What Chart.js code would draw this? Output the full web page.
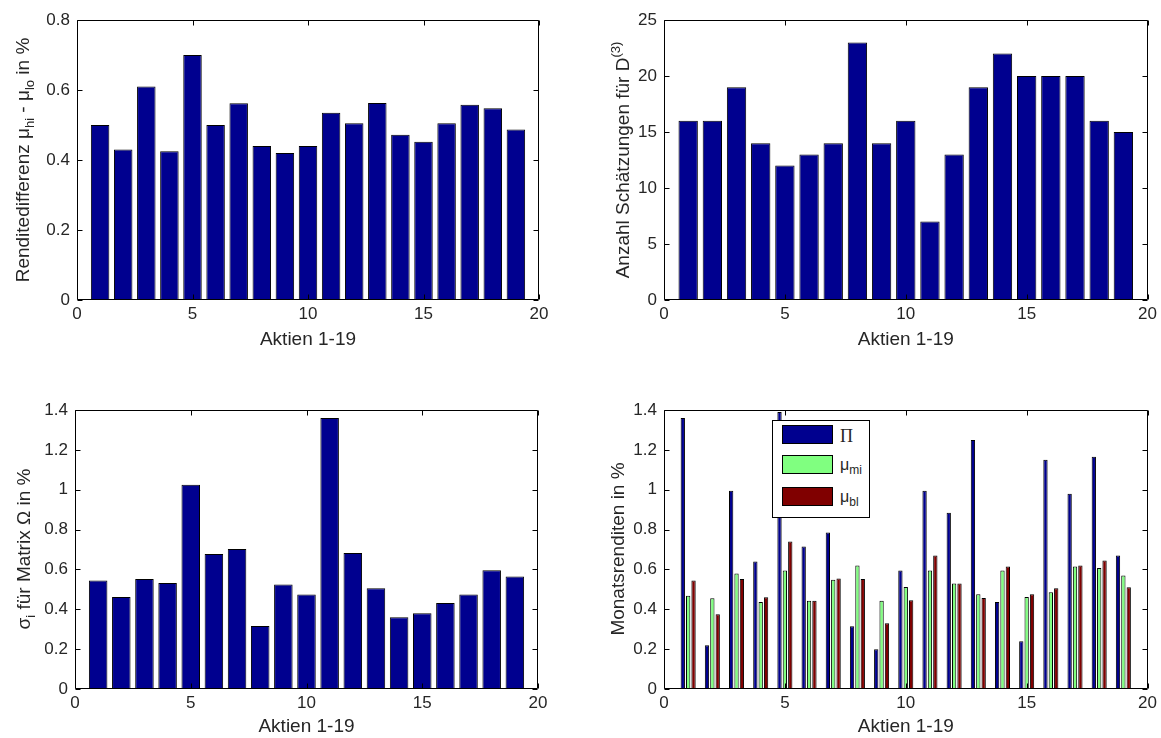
<!DOCTYPE html>
<html>
<head>
<meta charset="utf-8">
<script src="https://cdn.jsdelivr.net/npm/chart.js@4.4.0/dist/chart.umd.min.js"></script>
<style>
  html, body { margin: 0; padding: 0; background: #fff; }
  #fig { position: relative; width: 1161px; height: 738px; overflow: hidden; background: #fff;
         font-family: 'Liberation Sans', Arial, sans-serif; color: #262626; }
  canvas.pane { position: absolute; }
  .ylab { position: absolute; white-space: nowrap; transform: translate(-50%, -50%) rotate(-90deg);
          font-size: 19px; line-height: 1; color: #262626; }
  .ylab sub { font-size: 13px; vertical-align: -5px; line-height: 0; }
  .ylab sup { font-size: 13px; vertical-align: 9px; line-height: 0; }
  #legend { position: absolute; left: 772px; top: 420px; width: 96px; height: 96px;
            border: 1px solid #000; background: #fff; }
  .lg-patch { position: absolute; left: 9px; width: 49px; height: 17px; border: 1px solid #000; }
  .lg-text { position: absolute; left: 67px; font-size: 16px; line-height: 1; color: #262626; white-space: nowrap; }
  .lg-text sub { font-size: 12px; vertical-align: -4px; line-height: 0; }
  .lg-pi { font-family: 'Liberation Serif', 'DejaVu Serif', serif; font-size: 18px; }
</style>
</head>
<body>
<div id="fig">
  <canvas id="c1" class="pane" width="580" height="369" style="left:0;top:0"></canvas>
  <canvas id="c2" class="pane" width="581" height="369" style="left:580px;top:0"></canvas>
  <canvas id="c3" class="pane" width="580" height="369" style="left:0;top:369px"></canvas>
  <canvas id="c4" class="pane" width="581" height="369" style="left:580px;top:369px"></canvas>
  <div class="ylab" style="left:22px;top:160px">Renditedifferenz μ<sub>hi</sub> - μ<sub>lo</sub> in %</div>
  <div class="ylab" style="left:622px;top:160px">Anzahl Schätzungen für D<sup>(3)</sup></div>
  <div class="ylab" style="left:23px;top:549px">σ<sub>i</sub> für Matrix Ω in %</div>
  <div class="ylab" style="left:617px;top:549px">Monatsrenditen in %</div>
  <div id="legend"></div>
</div>
<script>
// ---------------- data ----------------
const aktien = [1, 2, 3, 4, 5, 6, 7, 8, 9, 10, 11, 12, 13, 14, 15, 16, 17, 18, 19];
const xTickValues = [0, 5, 10, 15, 20];
const xLabel = 'Aktien 1-19';

const renditeDiff = [0.50, 0.43, 0.61, 0.425, 0.70, 0.50, 0.562, 0.44, 0.42, 0.44,
                     0.535, 0.505, 0.563, 0.472, 0.452, 0.505, 0.558, 0.548, 0.487];
const yTicksRendite = [0, 0.2, 0.4, 0.6, 0.8];

const anzahlD3 = [16, 16, 19, 14, 12, 13, 14, 23, 14, 16, 7, 13, 19, 22, 20, 20, 20, 16, 15];
const yTicksAnzahl = [0, 5, 10, 15, 20, 25];

const sigmaOmega = [0.545, 0.462, 0.552, 0.532, 1.025, 0.678, 0.702, 0.316, 0.525, 0.474,
                    1.36, 0.683, 0.506, 0.36, 0.38, 0.432, 0.474, 0.596, 0.564];
const yTicksSigma = [0, 0.2, 0.4, 0.6, 0.8, 1, 1.2, 1.4];

const piValues = [1.36, 0.22, 0.995, 0.64, 1.39, 0.715, 0.785, 0.315, 0.20, 0.595,
                  0.995, 0.885, 1.25, 0.437, 0.24, 1.15, 0.98, 1.165, 0.67];
const muMi = [0.468, 0.455, 0.58, 0.437, 0.595, 0.443, 0.548, 0.62, 0.443, 0.512,
              0.595, 0.53, 0.475, 0.595, 0.462, 0.485, 0.615, 0.607, 0.57];
const muBl = [0.545, 0.375, 0.552, 0.46, 0.74, 0.443, 0.555, 0.552, 0.33, 0.445,
              0.67, 0.53, 0.457, 0.615, 0.475, 0.505, 0.62, 0.645, 0.51];
const yTicksMonat = [0, 0.2, 0.4, 0.6, 0.8, 1, 1.2, 1.4];
const seriesNames = ['Π', 'μmi', 'μbl'];
const seriesLegendHtml = ['<span class="lg-pi">Π</span>', 'μ<sub>mi</sub>', 'μ<sub>bl</sub>'];

// ---------------- styles ----------------
const NAVY = '#00008F', LGREEN = '#80FF80', DRED = '#800000';
const FONT_FAMILY = "'Liberation Sans', Arial, sans-serif";
const TEXT = '#262626';

const toPoints = vals => aktien.map((x, i) => ({ x: x, y: vals[i] }));
const fmt = v => String(Math.round(v * 100) / 100);

const boxPlugin = {
  id: 'matlabBox',
  afterDraw(chart) {
    const { ctx, chartArea: a, scales } = chart;
    const x = scales.x, y = scales.y;
    const L = Math.round(a.left) + 0.5, R = Math.round(a.right) - 0.5;
    const T = Math.round(a.top) + 0.5, B = Math.round(a.bottom) - 0.5;
    const tl = 5;
    ctx.save();
    ctx.strokeStyle = '#000';
    ctx.lineWidth = 1;
    ctx.beginPath();
    ctx.rect(L, T, R - L, B - T);
    x.ticks.forEach(t => {
      const px = Math.round(x.getPixelForValue(t.value)) + 0.5;
      ctx.moveTo(px, B); ctx.lineTo(px, B - tl);
      ctx.moveTo(px, T); ctx.lineTo(px, T + tl);
    });
    y.ticks.forEach(t => {
      const py = Math.round(y.getPixelForValue(t.value)) + 0.5;
      ctx.moveTo(L, py); ctx.lineTo(L + tl, py);
      ctx.moveTo(R, py); ctx.lineTo(R - tl, py);
    });
    ctx.stroke();
    ctx.restore();
  }
};

function makeChart(id, datasets, yTicks, yMax, lay, catPct, barPct) {
  return new Chart(document.getElementById(id), {
    type: 'bar',
    data: { datasets: datasets },
    options: {
      responsive: false,
      animation: false,
      devicePixelRatio: 1,
      layout: { padding: { left: 0, right: lay.padR, top: lay.padT, bottom: 0 } },
      datasets: { bar: { categoryPercentage: catPct, barPercentage: barPct } },
      plugins: { legend: { display: false }, tooltip: { enabled: false } },
      scales: {
        x: {
          type: 'linear', min: 0, max: 20, offset: false,
          grid: { display: false, drawTicks: false },
          border: { display: false },
          afterBuildTicks: s => { s.ticks = xTickValues.map(v => ({ value: v })); },
          afterFit: s => { s.height = lay.xH; },
          ticks: { padding: 4, autoSkip: false, maxRotation: 0, color: TEXT,
                   font: { family: FONT_FAMILY, size: 17 }, callback: v => fmt(v) },
          title: { display: true, text: xLabel, color: TEXT,
                   font: { family: FONT_FAMILY, size: 19 }, padding: { top: 0, bottom: lay.titlePad } }
        },
        y: {
          type: 'linear', min: 0, max: yMax,
          grid: { display: false, drawTicks: false },
          border: { display: false },
          afterBuildTicks: s => { s.ticks = yTicks.map(v => ({ value: v })); },
          afterFit: s => { s.width = lay.yW; },
          ticks: { padding: 7, autoSkip: false, color: TEXT,
                   font: { family: FONT_FAMILY, size: 17 }, callback: v => fmt(v) }
        }
      }
    },
    plugins: [boxPlugin]
  });
}

const single = (vals, label) => [{
  label: label, data: toPoints(vals), backgroundColor: NAVY,
  borderColor: '#000', borderWidth: 1, borderSkipped: false
}];

makeChart('c1', single(renditeDiff, 'Renditedifferenz'), yTicksRendite, 0.8,
  { padR: 41, padT: 20, xH: 69, yW: 77, titlePad: 18 }, 1, 0.8);
makeChart('c2', single(anzahlD3, 'Anzahl Schätzungen'), yTicksAnzahl, 25,
  { padR: 10, padT: 20, xH: 69, yW: 84, titlePad: 18 }, 1, 0.8);
makeChart('c3', single(sigmaOmega, 'sigma_i'), yTicksSigma, 1.4,
  { padR: 42, padT: 41, xH: 49, yW: 75, titlePad: 0 }, 1, 0.8);

const groupVals = [piValues, muMi, muBl];
const groupColors = [NAVY, LGREEN, DRED];
const chart4 = makeChart('c4', groupVals.map((vals, i) => ({
  label: seriesNames[i], data: toPoints(vals), backgroundColor: groupColors[i],
  borderColor: '#000', borderWidth: 1, borderSkipped: false
})), yTicksMonat, 1.4, { padR: 9, padT: 41, xH: 49, yW: 84, titlePad: 0 }, 2 / 3, 0.8);

// legend built from the chart's datasets
const legend = document.getElementById('legend');
const rowTops = [4, 34, 66];
chart4.data.datasets.forEach((ds, i) => {
  const p = document.createElement('div');
  p.className = 'lg-patch';
  p.style.top = rowTops[i] + 'px';
  p.style.background = ds.backgroundColor;
  legend.appendChild(p);
  const t = document.createElement('div');
  t.className = 'lg-text';
  t.style.top = (rowTops[i] + 2) + 'px';
  t.innerHTML = seriesLegendHtml[i];
  legend.appendChild(t);
});
</script>
</body>
</html>
